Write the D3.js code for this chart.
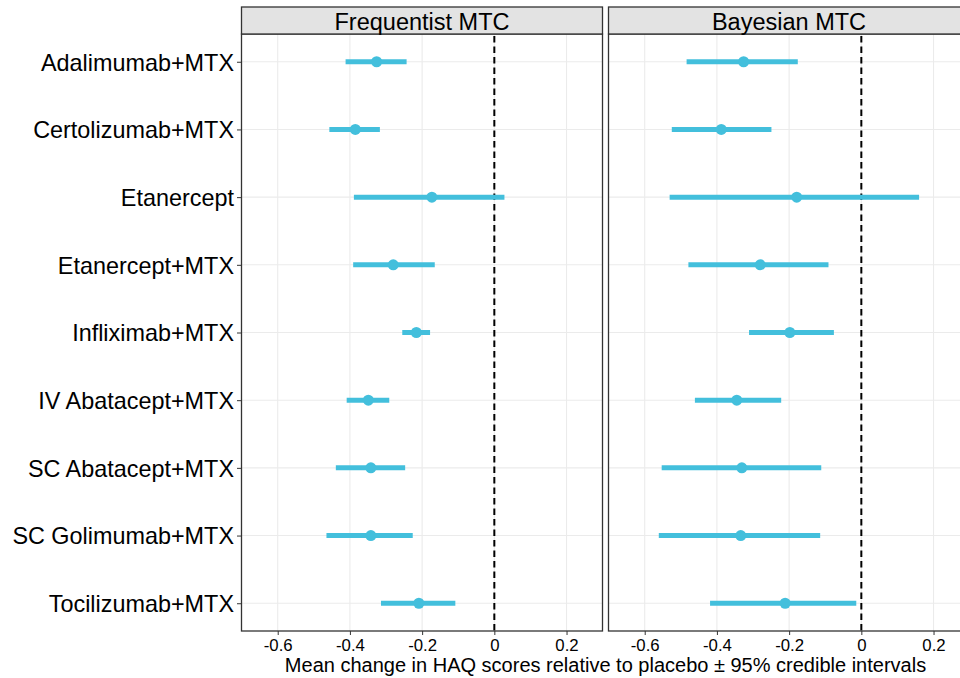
<!DOCTYPE html>
<html>
<head>
<meta charset="utf-8">
<script src="https://cdn.jsdelivr.net/npm/d3@7"></script>
<style>
  html, body { margin: 0; padding: 0; background: #fff; }
  svg { display: block; font-family: "Liberation Sans", Arial, sans-serif; }
</style>
</head>
<body>
<svg id="chart" width="960" height="678"></svg>
<script>
// ---- data ----
const treatments = [
  "Adalimumab+MTX", "Certolizumab+MTX", "Etanercept", "Etanercept+MTX",
  "Infliximab+MTX", "IV Abatacept+MTX", "SC Abatacept+MTX",
  "SC Golimumab+MTX", "Tocilizumab+MTX"
];
const panels = ["Frequentist MTC", "Bayesian MTC"];

const freqMean  = [-0.326, -0.385, -0.173, -0.280, -0.216, -0.349, -0.342, -0.342, -0.209];
const freqLower = [-0.412, -0.457, -0.389, -0.391, -0.255, -0.409, -0.439, -0.465, -0.314];
const freqUpper = [-0.243, -0.317,  0.028, -0.165, -0.178, -0.291, -0.247, -0.226, -0.108];

const bayesMean  = [-0.326, -0.388, -0.179, -0.280, -0.198, -0.345, -0.331, -0.334, -0.211];
const bayesLower = [-0.484, -0.525, -0.531, -0.479, -0.311, -0.461, -0.553, -0.561, -0.419];
const bayesUpper = [-0.176, -0.249,  0.160, -0.091, -0.076, -0.222, -0.111, -0.114, -0.014];

const xTicks = [-0.6, -0.4, -0.2, 0, 0.2];
const xTickLabels = ["-0.6", "-0.4", "-0.2", "0", "0.2"];
const xTitle = "Mean change in HAQ scores relative to placebo \u00b1 95% credible intervals";

const panelData = [
  treatments.map((t, i) => ({ t, m: freqMean[i], lo: freqLower[i], hi: freqUpper[i] })),
  treatments.map((t, i) => ({ t, m: bayesMean[i], lo: bayesLower[i], hi: bayesUpper[i] }))
];

// ---- layout ----
const panelTop = 34, panelBottom = 631, stripTop = 7;
const panelW = 362, panelGap = 5, firstLeft = 241;
const color = "#43BFDC";

const svg = d3.select("#chart");

const y = d3.scalePoint().domain(treatments).range([panelTop, panelBottom]).padding(0.41);

panels.forEach((name, pi) => {
  const left = firstLeft + pi * (panelW + panelGap);
  const x = d3.scaleLinear().domain([-0.7017, 0.3010]).range([left, left + panelW]);
  const g = svg.append("g");

  const clipId = "clip" + pi;
  svg.append("clipPath").attr("id", clipId).append("rect")
    .attr("x", left).attr("y", panelTop).attr("width", panelW).attr("height", panelBottom - panelTop);

  g.append("rect").attr("x", left).attr("y", panelTop).attr("width", panelW)
    .attr("height", panelBottom - panelTop).attr("fill", "#fff");

  // grid
  g.selectAll(".vg").data(xTicks).join("line")
    .attr("x1", d => x(d)).attr("x2", d => x(d))
    .attr("y1", panelTop).attr("y2", panelBottom)
    .attr("stroke", "#EBEBEB").attr("stroke-width", 1.1);
  g.selectAll(".hg").data(treatments).join("line")
    .attr("x1", left).attr("x2", left + panelW)
    .attr("y1", d => y(d)).attr("y2", d => y(d))
    .attr("stroke", "#EBEBEB").attr("stroke-width", 1.1);

  // reference line
  g.append("line").attr("x1", x(0)).attr("x2", x(0))
    .attr("y1", panelTop + 2).attr("y2", panelBottom)
    .attr("stroke", "#000").attr("stroke-width", 2)
    .attr("stroke-dasharray", "6.5,4");

  const marks = g.append("g").attr("clip-path", `url(#${clipId})`);
  marks.selectAll(".ci").data(panelData[pi]).join("line")
    .attr("x1", d => x(d.lo)).attr("x2", d => x(d.hi))
    .attr("y1", d => y(d.t)).attr("y2", d => y(d.t))
    .attr("stroke", color).attr("stroke-width", 5);
  marks.selectAll(".pt").data(panelData[pi]).join("circle")
    .attr("cx", d => x(d.m)).attr("cy", d => y(d.t)).attr("r", 5.5)
    .attr("fill", color);

  // panel border
  g.append("rect").attr("x", left + 0.5).attr("y", panelTop)
    .attr("width", panelW - 1).attr("height", panelBottom - panelTop)
    .attr("fill", "none").attr("stroke", "#333").attr("stroke-width", 1.3);

  // strip
  g.append("rect").attr("x", left + 0.5).attr("y", stripTop)
    .attr("width", panelW - 1).attr("height", panelTop - stripTop)
    .attr("fill", "#E3E3E3").attr("stroke", "#333").attr("stroke-width", 1.3);
  g.append("text").attr("x", left + panelW / 2).attr("y", 30)
    .attr("text-anchor", "middle").attr("font-size", "23.5px").attr("fill", "#000")
    .text(name);

  // x axis
  const xAxis = d3.axisBottom(x).tickValues(xTicks)
    .tickFormat((d, i) => xTickLabels[i]).tickSizeOuter(0).tickSize(4).tickPadding(3);
  const ax = svg.append("g").attr("transform", `translate(0,${panelBottom})`).call(xAxis);
  ax.select(".domain").remove();
  ax.selectAll(".tick line").attr("stroke", "#333").attr("stroke-width", 1);
  ax.selectAll(".tick text").attr("font-size", "16.8px").attr("fill", "#000")
    .attr("font-family", "'Liberation Sans', Arial, sans-serif")
    .attr("dy", null).attr("y", 19.5);
});

// y axis
const yAxis = d3.axisLeft(y).tickSize(4).tickPadding(3);
const ay = svg.append("g").attr("transform", `translate(${firstLeft},0)`).call(yAxis);
ay.select(".domain").remove();
ay.selectAll(".tick line").attr("stroke", "#333");
ay.selectAll(".tick text").attr("font-size", "23.4px").attr("fill", "#000")
  .attr("font-family", "'Liberation Sans', Arial, sans-serif")
  .attr("dy", "0.36em");

// x title
svg.append("text").attr("x", 605.5).attr("y", 672)
  .attr("text-anchor", "middle").attr("font-size", "20px").attr("fill", "#000")
  .text(xTitle);
</script>
</body>
</html>
